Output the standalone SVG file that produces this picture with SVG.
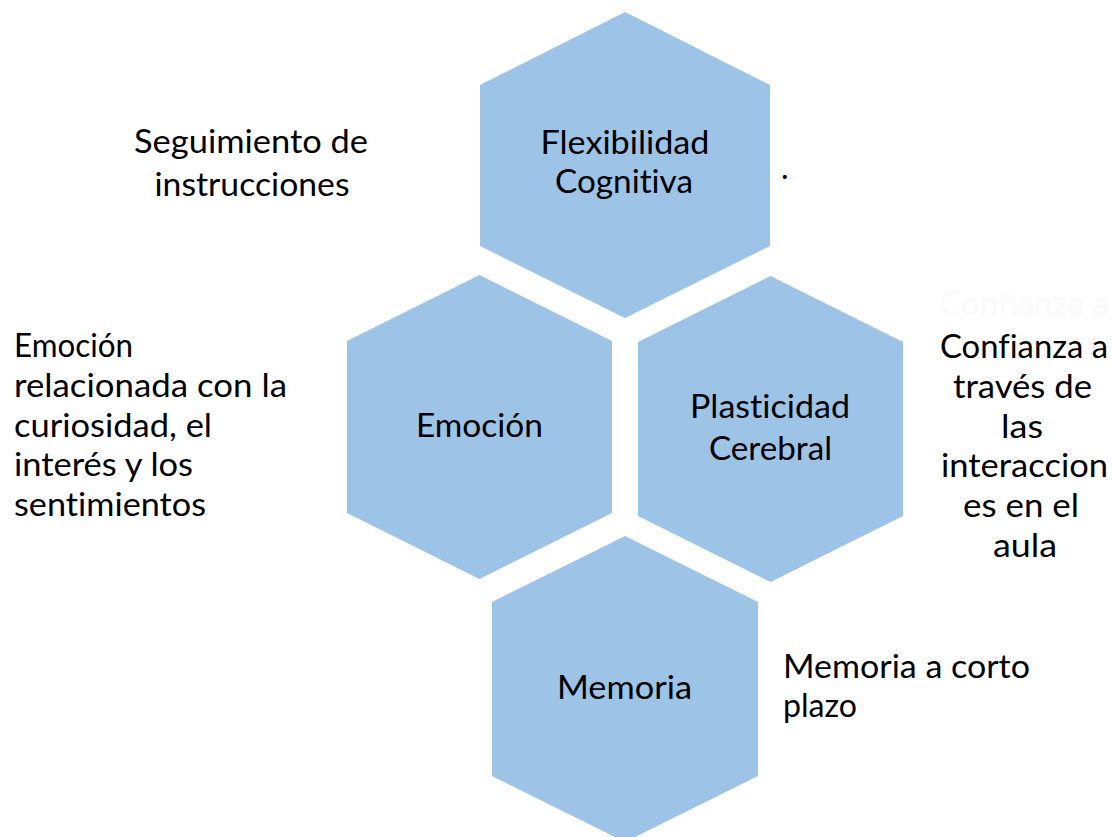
<svg xmlns="http://www.w3.org/2000/svg" width="1112" height="837" viewBox="0 0 1112 837">
<style>
.hex{fill:#9dc3e6;stroke:none}
.t{font-family:Lato,"Liberation Sans",sans-serif;font-size:32px;fill:#000;font-variant-ligatures:none}
.c{text-anchor:middle}
.ghost{font-family:Lato,"Liberation Sans",sans-serif;font-size:32px;fill:#fafafa;font-variant-ligatures:none}
</style>
<rect width="1112" height="837" fill="#fff"/>
<g id="connectors"></g>
<g id="node-flexibilidad">
<polygon class="hex" points="625,12 770,85 770,246 625,318 480,246 480,85"/>
<text class="t c" x="625" y="154" textLength="169" lengthAdjust="spacingAndGlyphs">Flexibilidad</text>
<text class="t c" x="624" y="193" textLength="138" lengthAdjust="spacingAndGlyphs">Cognitiva</text>
</g>
<g id="node-emocion">
<polygon class="hex" points="479.5,275 612,341 612,513 479.5,579 347,513 347,341"/>
<text class="t c" x="479.5" y="437" textLength="127" lengthAdjust="spacingAndGlyphs">Emoción</text>
</g>
<g id="node-plasticidad">
<polygon class="hex" points="770.5,276 903,342 903,516 770.5,582 638,516 638,342"/>
<text class="t c" x="770" y="418" textLength="160" lengthAdjust="spacingAndGlyphs">Plasticidad</text>
<text class="t c" x="770.5" y="460" textLength="123" lengthAdjust="spacingAndGlyphs">Cerebral</text>
</g>
<g id="node-memoria">
<polygon class="hex" points="625,536 758,602 758,776 625,842 492,776 492,602"/>
<text class="t c" x="624.5" y="699" textLength="135" lengthAdjust="spacingAndGlyphs">Memoria</text>
</g>
<g id="label-seguimiento">
<text class="t c" x="251" y="153" textLength="234" lengthAdjust="spacingAndGlyphs">Seguimiento de</text>
<text class="t c" x="252" y="196" textLength="195" lengthAdjust="spacingAndGlyphs">instrucciones</text>
</g>
<g id="label-dot">
<text class="t" x="781" y="179">.</text>
</g>
<g id="label-emocion">
<text class="t" x="14" y="357" textLength="119" lengthAdjust="spacingAndGlyphs">Emoción</text>
<text class="t" x="14" y="397" textLength="273" lengthAdjust="spacingAndGlyphs">relacionada con la</text>
<text class="t" x="14" y="437" textLength="198" lengthAdjust="spacingAndGlyphs">curiosidad, el</text>
<text class="t" x="14" y="476" textLength="179" lengthAdjust="spacingAndGlyphs">interés y los</text>
<text class="t" x="14" y="516" textLength="192" lengthAdjust="spacingAndGlyphs">sentimientos</text>
</g>
<g id="label-confianza">
<text class="ghost c" x="1024" y="315" textLength="170" lengthAdjust="spacingAndGlyphs">Confianza a</text>
<text class="t c" x="1024" y="358" textLength="168" lengthAdjust="spacingAndGlyphs">Confianza a</text>
<text class="t c" x="1022.5" y="398" textLength="139" lengthAdjust="spacingAndGlyphs">través de</text>
<text class="t c" x="1022" y="438" textLength="42" lengthAdjust="spacingAndGlyphs">las</text>
<text class="t c" x="1024.5" y="477" textLength="167" lengthAdjust="spacingAndGlyphs">interaccion</text>
<text class="t c" x="1021" y="517" textLength="116" lengthAdjust="spacingAndGlyphs">es en el</text>
<text class="t c" x="1025" y="557" textLength="64" lengthAdjust="spacingAndGlyphs">aula</text>
</g>
<g id="label-memoria">
<text class="t" x="783" y="678" textLength="247" lengthAdjust="spacingAndGlyphs">Memoria a corto</text>
<text class="t" x="783" y="717" textLength="74" lengthAdjust="spacingAndGlyphs">plazo</text>
</g>
</svg>
